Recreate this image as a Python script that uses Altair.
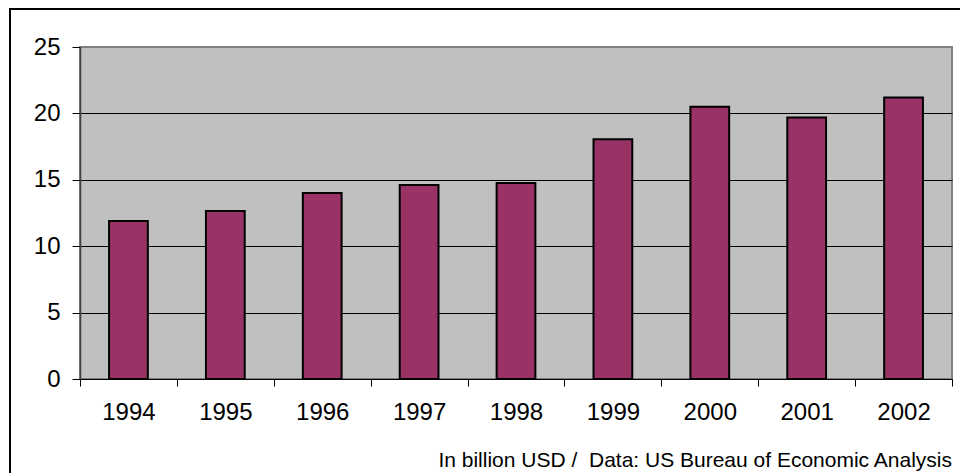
import altair as alt
import pandas as pd

# Annual values, billion USD
years = ["1994", "1995", "1996", "1997", "1998", "1999", "2000", "2001", "2002"]
values = [11.9, 12.65, 14.0, 14.6, 14.75, 18.05, 20.5, 19.7, 21.2]
y_ticks = [0, 5, 10, 15, 20, 25]
footer = "In billion USD /\u00a0 Data: US Bureau of Economic Analysis"

df = pd.DataFrame({"year": years, "value": values})

FONT = "Liberation Sans, Arial, sans-serif"
W, H = 872, 332

x_enc = alt.X(
    "year:N",
    sort=years,
    title=None,
    scale=alt.Scale(paddingInner=0, paddingOuter=0),
    axis=alt.Axis(
        labelAngle=0,
        labelFont=FONT,
        labelFontSize=24,
        labelColor="black",
        labelPadding=14,
        tickBand="extent",
        tickSize=7,
        tickColor="black",
        domainColor="black",
        grid=False,
    ),
)
y_enc = alt.Y(
    "value:Q",
    title=None,
    scale=alt.Scale(domain=[0, 25], nice=False),
    axis=alt.Axis(
        values=y_ticks,
        labelFont=FONT,
        labelFontSize=24,
        labelColor="black",
        labelPadding=12,
        tickSize=8,
        tickColor="black",
        domainColor="#404040",
        domainWidth=1.5,
        gridColor={"condition": {"test": "datum.value === 25", "value": "#808080"}, "value": "black"},
        gridWidth=1,
    ),
)

bars = alt.Chart(df).mark_bar(
    width=alt.RelativeBandSize(0.4),
    color="#993366",
    stroke="black",
    strokeWidth=2,
).encode(x=x_enc, y=y_enc)

# outer frame around the whole figure
frame = alt.Chart(df).mark_rect(
    fill=None, stroke="black", strokeWidth=1.5, clip=False
).encode(
    x=alt.value(-70), x2=alt.value(W + 200),
    y=alt.value(-38), y2=alt.value(H + 200),
)

# source note, drawn once
note_df = pd.DataFrame({"label": [footer]})
note = alt.Chart(note_df).mark_text(
    align="right", baseline="alphabetic",
    font=FONT, fontSize=21, fontWeight="normal",
    fill="black", strokeWidth=0,
).encode(text="label:N", x=alt.value(W), y=alt.value(H + 88))

chart = alt.layer(frame, bars, note).properties(
    width=W, height=H,
    background="white",
    padding={"left": 80, "top": 47, "right": 8, "bottom": 94},
    autosize=alt.AutoSizeParams(type="none"),
).configure_view(
    fill="#C0C0C0", stroke="#808080", strokeWidth=2,
)

chart.save("out.html", embed_options={"renderer": "svg", "actions": False})
